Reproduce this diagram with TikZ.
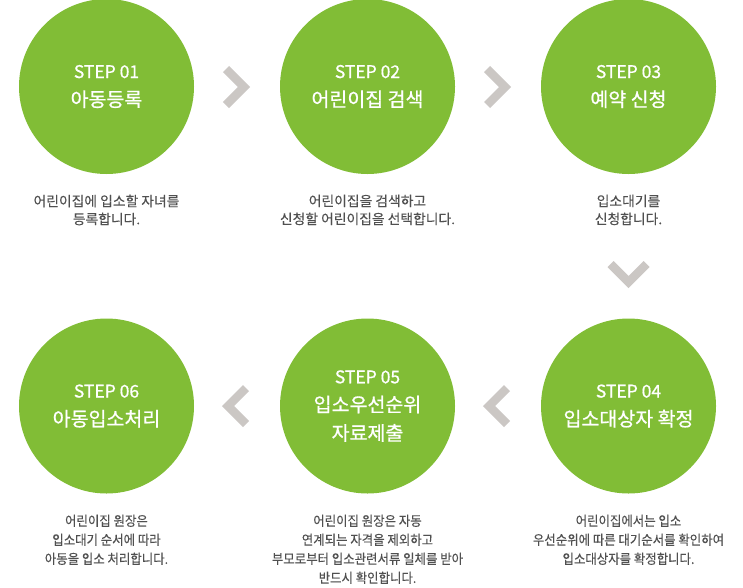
\documentclass[tikz,border=0pt]{standalone}
\usepackage{fontspec}
\setmainfont{Noto Sans CJK KR}
\newfontfamily\stepfont[FakeBold=0.8]{Noto Sans CJK KR}
\newfontfamily\descfont[FakeBold=0.2]{Noto Sans CJK KR}
\newfontfamily\descnarrow[FakeStretch=0.92, FakeBold=0.2]{Noto Sans CJK KR}
\usetikzlibrary{positioning}
\definecolor{stepgreen}{RGB}{129,189,54}
\definecolor{chevgray}{RGB}{203,199,196}
\definecolor{desctext}{RGB}{80,80,80}

\tikzset{
    stepcircle/.style={circle, fill=stepgreen, minimum size=175pt, inner sep=0pt,
        text=white, align=center, font=\stepfont\fontsize{19.5}{28.5}\selectfont},
    chevron/.style={draw=chevgray, line width=8.5pt, line join=miter},
    desc/.style={anchor=north, inner sep=0pt, align=center, text=desctext,
        font=\descfont\fontsize{13.8}{18}\selectfont},
    descb/.style={desc, font=\descnarrow\fontsize{13.5}{19}\selectfont},
}
\newcommand{\steplbl}[1]{{\fontsize{17.5}{28.5}\selectfont #1}}

\begin{document}
\begin{tikzpicture}[x=1pt, y=-1pt]
    \useasboundingbox (0,0) rectangle (743,587);

    % steps, top row
    \node[stepcircle] (s1) at (106.5,86.5) {\steplbl{STEP 01}\\아동등록};
    \node[stepcircle] (s2) at (367.5,86.5) {\steplbl{STEP 02}\\어린이집 검색};
    \node[stepcircle] (s3) at (628.5,86.5) {\steplbl{STEP 03}\\예약 신청};

    % steps, bottom row
    \node[stepcircle] (s4) at (628.5,406) {\steplbl{STEP 04}\\입소대상자 확정};
    \node[stepcircle] (s5) at (367.5,406) {\steplbl{STEP 05}\\입소우선순위\\자료제출};
    \node[stepcircle] (s6) at (106.5,406) {\steplbl{STEP 06}\\아동입소처리};

    % descriptions
    \node[desc] (d1) at (106.5,194.5) {어린이집에 입소할 자녀를\\등록합니다.};
    \node[desc] (d2) at (367.5,194.5) {어린이집을 검색하고\\신청할 어린이집을 선택합니다.};
    \node[desc] (d3) at (628.5,194.5) {입소대기를\\신청합니다.};

    \node[descb] (d4) at (628.5,514.5) {어린이집에서는 입소\\우선순위에 따른 대기순서를 확인하여\\입소대상자를 확정합니다.};
    \node[descb] (d5) at (367.5,514.5) {어린이집 원장은 자동\\연계되는 자격을 제외하고\\부모로부터 입소관련서류 일체를 받아\\반드시 확인합니다.};
    \node[descb] (d6) at (106.5,514.5) {어린이집 원장은\\입소대기 순서에 따라\\아동을 입소 처리합니다.};

    % chevrons
    \draw[chevron] (226,69) -- ++(18,18) -- ++(-18,18);
    \draw[chevron] (487,69) -- ++(18,18) -- ++(-18,18);
    \draw[chevron] (610.5,264) -- ++(18,18) -- ++(18,-18);
    \draw[chevron] (507,388) -- ++(-18,18) -- ++(18,18);
    \draw[chevron] (246,388) -- ++(-18,18) -- ++(18,18);
\end{tikzpicture}
\end{document}
